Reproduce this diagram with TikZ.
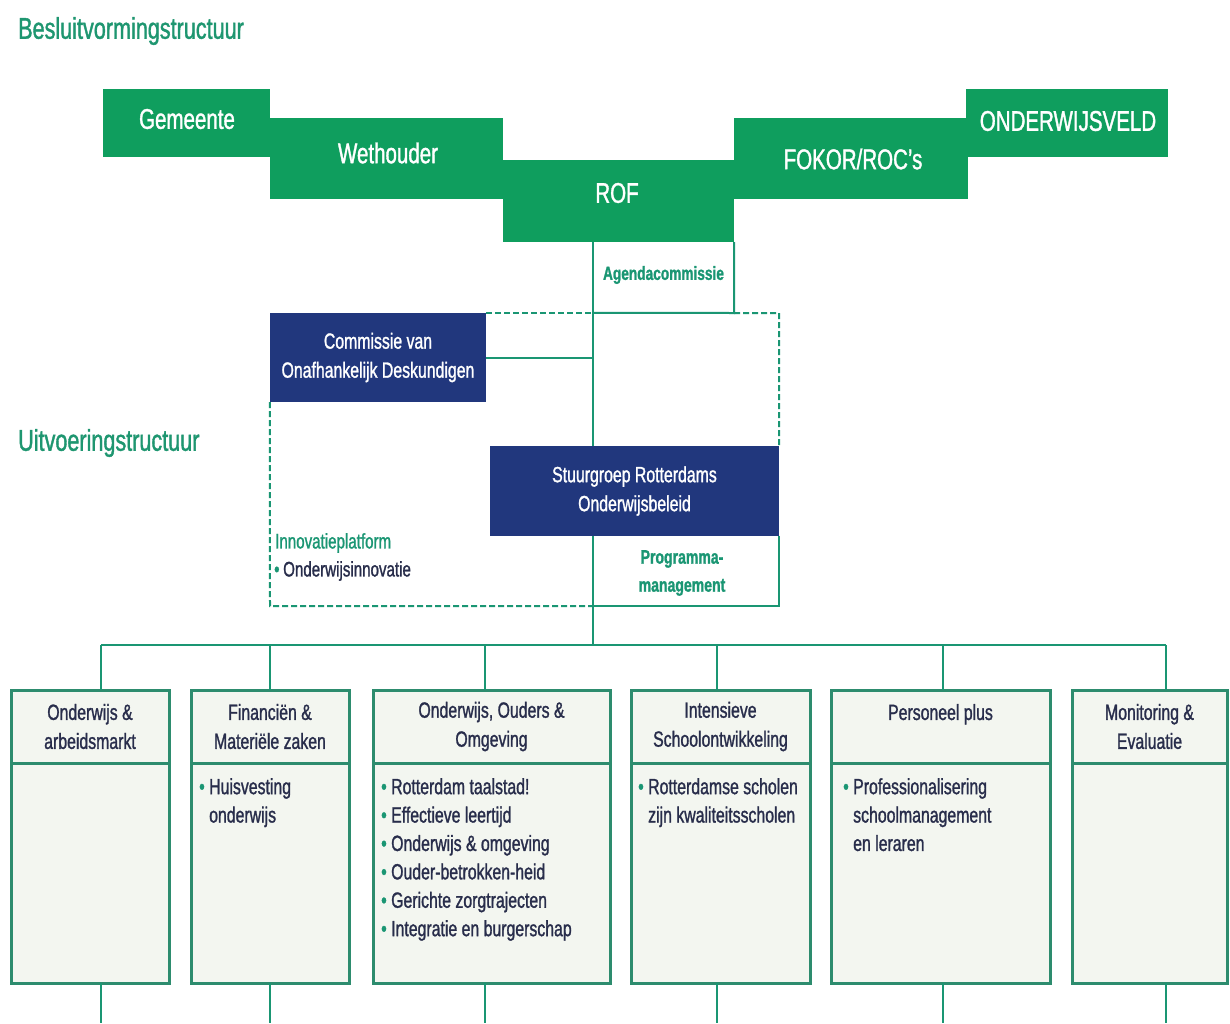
\documentclass[tikz,border=0pt]{standalone}
\usepackage{fontspec}
\setmainfont[FakeStretch=0.72,FakeBold=1.2]{Liberation Sans}
\usetikzlibrary{positioning}

\definecolor{topgreen}{RGB}{15,158,94}
\definecolor{titlegreen}{RGB}{30,150,112}
\definecolor{linegreen}{RGB}{26,150,115}
\definecolor{navy}{RGB}{33,55,125}
\definecolor{boxfill}{RGB}{243,246,240}
\definecolor{boxline}{RGB}{45,140,110}
\definecolor{darktext}{RGB}{40,45,75}

\newcommand\itm{\makebox[10pt][l]{\textcolor{linegreen}{•}}}
\newcommand\ind{\hspace*{10pt}}

\begin{document}
\begin{tikzpicture}
      [%%%%%%%%%%%%%%%%%%%%%%%%%%%%%%
      x=1pt,y=-1pt,
      title/.style={anchor=west,inner sep=0pt,text=titlegreen,font=\fontsize{30}{34}\selectfont},
      topbox/.style={rectangle,fill=topgreen,text=white,inner sep=0pt,font=\fontsize{28.5}{34}\selectfont},
      toptext/.style={inner sep=0pt,text=white,font=\fontsize{28.5}{34}\selectfont},
      navybox/.style={rectangle,fill=navy,text=white,inner sep=0pt,align=center,font=\fontsize{22}{29}\selectfont},
      greentext/.style={inner sep=0pt,text=linegreen,align=center,font=\bfseries\fontsize{19}{28}\selectfont},
      headbox/.style={rectangle,draw=boxline,line width=3pt,outer sep=0pt,fill=boxfill,text=darktext,inner sep=0pt,align=center,minimum height=73pt,font=\fontsize{22}{29}\selectfont},
      bodybox/.style={rectangle,draw=boxline,line width=3pt,outer sep=0pt,fill=boxfill,inner sep=0pt,minimum height=220pt},
      bodytext/.style={inner sep=0pt,text=darktext,align=left,font=\fontsize{22}{28.4}\selectfont},
      conn/.style={draw=linegreen,line width=2pt},
      frame/.style={draw=linegreen,line width=2pt,dash pattern=on 6pt off 3pt},
      ]%%%%%%%%%%%%%%%%%%%%%%%%%%%%%%
      \fill[white] (0,0) rectangle (1230,1023);
      \useasboundingbox (0,0) rectangle (1230,1023);

      % titels
      \node[title] (besluit) at (18,31) {Besluitvormingstructuur};
      \node[title] (uitvoer) at (18,443) {Uitvoeringstructuur};

      % besluitvorming
      \node[topbox,minimum width=167pt,minimum height=68pt] (gemeente) at (186.5,123) {};
      \node[topbox,minimum width=233pt,minimum height=81pt] (wethouder) at (386.5,158.5) {};
      \node[topbox,minimum width=231pt,minimum height=82pt] (rof) at (618.5,201) {};
      \node[topbox,minimum width=234pt,minimum height=81pt] (fokor) at (851,158.5) {};
      \node[topbox,minimum width=202pt,minimum height=68pt] (veld) at (1067,123) {};
      \node[toptext] (gemtxt) at (187,119) {Gemeente};
      \node[toptext] (wettxt) at (388,153) {Wethouder};
      \node[toptext] (roftxt) at (617,193) {ROF};
      \node[toptext] (foktxt) at (853,159) {FOKOR/ROC's};
      \node[toptext] (veldtxt) at (1068,121) {ONDERWIJSVELD};

      \node[greentext,minimum width=141pt,minimum height=71pt] (agenda) at (663.5,275) {Agendacommissie};

      \node[navybox,minimum width=216pt,minimum height=89pt] (commissie) at (378,357.5) {Commissie van\\Onafhankelijk Deskundigen};
      \node[navybox,minimum width=289pt,minimum height=90pt] (stuurgroep) at (634.5,491) {Stuurgroep Rotterdams\\Onderwijsbeleid};
      \node[greentext,minimum width=186pt,minimum height=70pt] (programma) at (686,571) {};
      \node[greentext,font=\bfseries\fontsize{19.5}{28}\selectfont] (progtxt) at (682,573) {Programma-\\management};

      \node[inner sep=0pt,anchor=west,text=linegreen,font=\fontsize{21}{28}\selectfont] (innovatie) at (275,543) {Innovatieplatform};
      \node[inner sep=0pt,anchor=west,text=darktext,font=\fontsize{21}{28}\selectfont] (innovatie2) at (274,571) {\makebox[9pt][l]{\textcolor{linegreen}{•}}Onderwijsinnovatie};

      \coordinate (sp) at (593,645);
      \coordinate (fne) at (779,313);
      \coordinate (fsw) at (270,606);
      \coordinate (bot) at (0,1023);

      % lijnen boven
      \draw[conn] (rof.south -| sp) -- (stuurgroep.north -| sp);
      \draw[conn] (stuurgroep.south -| sp) -- (sp);
      \draw[conn] (rof.south east) -- (rof.south east |- fne) -- (commissie.north east -| sp);
      \draw[conn] (commissie.east) -- (commissie.east -| sp);
      \draw[conn] (programma.north east) -- (programma.south east) -- (programma.south west);
      \draw[frame] (commissie.north east) -- (commissie.north east -| sp);
      \draw[frame] (rof.south east |- fne) -- (fne) -- (stuurgroep.north east);
      \draw[frame] (commissie.south west) -- (fsw) -- (programma.south west);

      % uitvoering
      \node[headbox,minimum width=158pt] (hd1) at (90,726.5) {Onderwijs \&\\arbeidsmarkt};
      \node[headbox,minimum width=158pt] (hd2) at (270,726.5) {Financiën \&\\Materiële zaken};
      \node[headbox,minimum width=237pt] (hd3) at (491.5,726.5) {Onderwijs, Ouders \&\\Omgeving};
      \node[headbox,minimum width=179pt] (hd4) at (720.5,726.5) {Intensieve\\Schoolontwikkeling};
      \node[headbox,minimum width=219pt] (hd5) at (940.5,726.5) {Personeel plus\\\phantom{X}};
      \node[headbox,minimum width=155pt] (hd6) at (1149.5,726.5) {Monitoring \&\\Evaluatie};

      \node[bodybox,minimum width=158pt,below=0pt of hd1] (bd1) {};
      \node[bodybox,minimum width=158pt,below=0pt of hd2] (bd2) {};
      \node[bodybox,minimum width=237pt,below=0pt of hd3] (bd3) {};
      \node[bodybox,minimum width=179pt,below=0pt of hd4] (bd4) {};
      \node[bodybox,minimum width=219pt,below=0pt of hd5] (bd5) {};
      \node[bodybox,minimum width=155pt,below=0pt of hd6] (bd6) {};

      \node[bodytext,below right=15pt and 8pt of bd2.north west] (txt2) {\itm Huisvesting\\\ind onderwijs};
      \node[bodytext,below right=15pt and 8pt of bd3.north west] (txt3) {\itm Rotterdam taalstad!\\\itm Effectieve leertijd\\\itm Onderwijs \& omgeving\\\itm Ouder-betrokken-heid\\\itm Gerichte zorgtrajecten\\\itm Integratie en burgerschap};
      \node[bodytext,below right=15pt and 7pt of bd4.north west] (txt4) {\itm Rotterdamse scholen\\\ind zijn kwaliteitsscholen};
      \node[bodytext,below right=15pt and 12pt of bd5.north west] (txt5) {\itm Professionalisering\\\ind schoolmanagement\\\ind en leraren};

      \coordinate (d1) at (101,645);
      \coordinate (d2) at (270,645);
      \coordinate (d3) at (485,645);
      \coordinate (d4) at (717,645);
      \coordinate (d5) at (943,645);
      \coordinate (d6) at (1166,645);

      \draw[conn] (d1) -- (d6);
      \foreach \i in {1,...,6}{
        \draw[conn] (d\i) -- (d\i |- hd\i.north);
        \draw[conn] (d\i |- bd\i.south) -- (d\i |- bot);
      }
    \end{tikzpicture}
\end{document}
